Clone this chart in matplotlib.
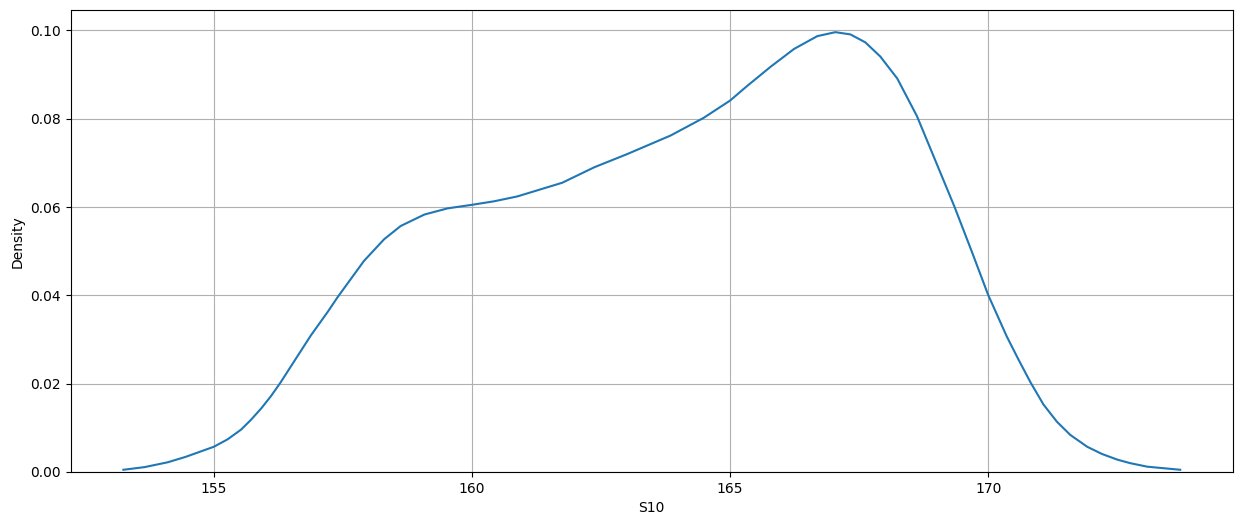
import matplotlib
matplotlib.use("Agg")
import matplotlib.pyplot as plt

# KDE curve of S10
s10 = [153.25, 153.66, 154.11, 154.45, 155.00, 155.27, 155.53, 155.72, 155.92,
       156.11, 156.29, 156.56, 156.88, 157.21, 157.40, 157.91, 158.30, 158.62,
       159.08, 159.53, 160.00, 160.43, 160.88, 161.75, 162.37, 163.01, 163.85,
       164.49, 165.00, 165.33, 165.79, 166.24, 166.69, 167.04, 167.33, 167.62,
       167.91, 168.24, 168.62, 168.95, 169.35, 169.69, 170.00, 170.36, 170.59,
       170.82, 171.07, 171.33, 171.59, 171.92, 172.20, 172.50, 172.75, 173.08,
       173.72]
density = [0.0005, 0.0011, 0.0022, 0.0034, 0.0057, 0.0074, 0.0096, 0.0118, 0.0144,
           0.0172, 0.0202, 0.0251, 0.0309, 0.0363, 0.0396, 0.0478, 0.0527, 0.0557,
           0.0583, 0.0597, 0.0605, 0.0613, 0.0624, 0.0655, 0.0690, 0.0720, 0.0762,
           0.0802, 0.0841, 0.0874, 0.0918, 0.0958, 0.0987, 0.0996, 0.0991, 0.0973,
           0.0941, 0.0891, 0.0806, 0.0713, 0.0600, 0.0497, 0.0401, 0.0307, 0.0254,
           0.0203, 0.0153, 0.0114, 0.0084, 0.0057, 0.0041, 0.0028, 0.0020, 0.0012,
           0.0005]

fig = plt.figure(figsize=(12.42, 5.25), dpi=100)
ax = fig.add_axes([0.0568, 0.101, 0.936, 0.8794])
ax.plot(s10, density, color="tab:blue", linewidth=1.5)
ax.set_ylim(bottom=0)
ax.set_xlabel("S10")
ax.set_ylabel("Density")
ax.grid(True)

fig.savefig("out.png", dpi=100)
